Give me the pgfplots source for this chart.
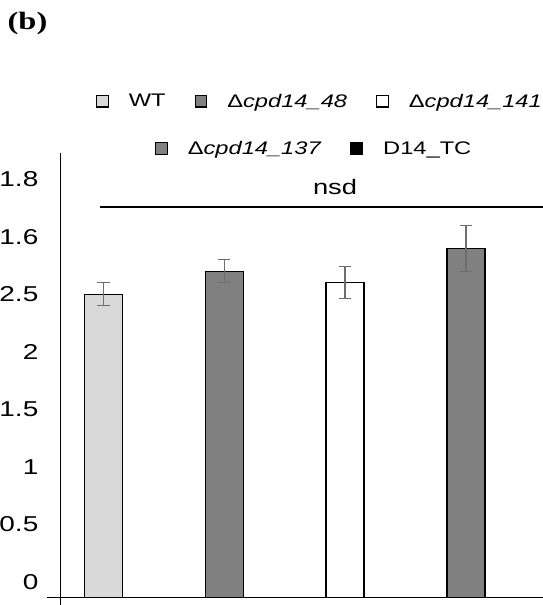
\documentclass[border=0pt]{standalone}
\usepackage{fontspec}
\setmainfont{Liberation Sans}[FakeStretch=1.3]
\newfontfamily\serifb{Liberation Serif}[FakeStretch=1.3]
\usepackage{pgfplots}
\usepackage{pgfplotstable}
\pgfplotsset{compat=1.18}
\definecolor{lgray}{HTML}{D9D9D9}
\definecolor{dgray}{HTML}{808080}
\definecolor{egray}{HTML}{6E6E6E}

\pgfplotstableread{
x y e
1 2.5 0.10
}\wt
\pgfplotstableread{
x y e
2 2.7 0.10
}\dA
\pgfplotstableread{
x y e
3 2.6 0.14
}\dB
\pgfplotstableread{
x y e
4 2.9 0.20
}\dC

\begin{document}
\begin{tikzpicture}
\path[use as bounding box] (0,0) rectangle (543bp,605bp);
\begin{axis}[
  at={(60bp,7.5bp)}, anchor=south west,
  scale only axis, width=483bp, height=444.5bp,
  xmin=0.642, xmax=4.637, ymin=0, ymax=3.865,
  axis x line*=bottom, axis y line*=left,
  axis line style={line width=1bp, -},
  xtick=\empty,
  ytick={0.1374,0.6374,1.1374,1.6374,2.1374,2.6374,3.1374,3.6374},
  yticklabels={0,0.5,1,1.5,2,2.5,1.6,1.8},
  /pgf/number format/assume math mode=true,
  major tick length=0pt,
  yticklabel style={font=\fontsize{21.5bp}{25bp}\selectfont, anchor=east, inner sep=0pt, xshift=-21.5bp},
  ybar, bar width=38bp, bar shift=0pt,
  clip=false,
  legend image code/.code={\draw[#1, line width=1.2bp] (0bp,-5.8bp) rectangle (11.6bp,5.8bp);},
  legend columns=3,
  legend style={at={(0.0745,1.1163)}, anchor=west, draw=none, fill=none, inner sep=0pt, outer sep=0pt,
    font=\fontsize{18.2bp}{22bp}\selectfont,
    nodes={inner sep=0pt},
    /tikz/every odd column/.append style={column sep=20bp},
    /tikz/every even column/.append style={column sep=29bp}},
  eb/.style={error bars/.cd, y dir=both, y explicit,
    error bar style={line width=1.3bp, egray},
    error mark options={rotate=90, mark size=6.3bp, line width=1.3bp, egray}},
]
\addplot[fill=lgray, draw=black, line width=1.3bp, eb] table[x=x, y expr=\thisrow{y}+0.1374, y error=e]{\wt};
\addlegendentry{WT}
\addplot[fill=dgray, draw=black, line width=1.3bp, eb] table[x=x, y expr=\thisrow{y}+0.1374, y error=e]{\dA};
\addlegendentry{Δ\textit{cpd14\_48}}
\addplot[fill=white, draw=black, line width=1.3bp, eb] table[x=x, y expr=\thisrow{y}+0.1374, y error=e]{\dB};
\addlegendentry{Δ\textit{cpd14\_141}}
\addplot[fill=dgray, draw=black, line width=1.3bp, eb] table[x=x, y expr=\thisrow{y}+0.1374, y error=e]{\dC};
\draw[line width=1.3bp] (axis cs:0.973,3.396) -- (axis cs:4.637,3.396);
\node[font=\fontsize{21bp}{25bp}\selectfont] at (axis cs:2.917,3.572) {nsd};
\end{axis}
\begin{axis}[
  at={(60bp,7.5bp)}, anchor=south west,
  scale only axis, width=483bp, height=444.5bp,
  xmin=0, xmax=1, ymin=0, ymax=1, hide axis,
  legend image code/.code={\draw[#1, line width=1.2bp] (0bp,-5.8bp) rectangle (11.6bp,5.8bp);},
  legend columns=2,
  legend style={at={(0.1967,1.0097)}, anchor=west, draw=none, fill=none, inner sep=0pt, outer sep=0pt,
    font=\fontsize{18.2bp}{22bp}\selectfont,
    nodes={inner sep=0pt},
    /tikz/every odd column/.append style={column sep=20bp},
    /tikz/every even column/.append style={column sep=29bp}},
]
\addlegendimage{fill=dgray, draw=black}
\addlegendentry{Δ\textit{cpd14\_137}}
\addlegendimage{fill=black, draw=black}
\addlegendentry{D14\_TC}
\end{axis}
\draw[line width=1bp] (46.7bp,7.5bp) -- (60bp,7.5bp) -- (60bp,0bp);
\node[font=\serifb\bfseries\fontsize{25bp}{29bp}\selectfont] at (27.5bp,581.5bp) {(b)};
\end{tikzpicture}
\end{document}
